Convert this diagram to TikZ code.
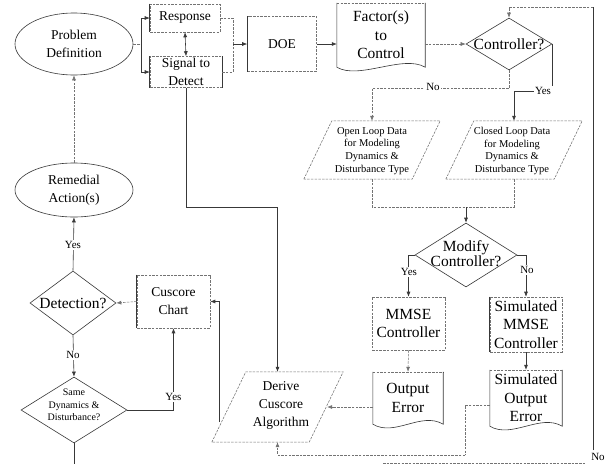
\documentclass[tikz,border=0pt]{standalone}
\usepackage{fontspec}
\setmainfont{Liberation Serif}
\usetikzlibrary{shapes.geometric,arrows.meta,calc}
\newcommand\drawpgram[2]{%
  \draw[fl] (#1.south west) -- ($(#1.north west)+(#2,0)$) -- (#1.north east) -- ($(#1.south east)+(-#2,0)$) -- cycle;}
\newcommand\drawdoc[1]{%
  \draw[fl] (#1.north west) -- (#1.north east);
  \draw[ln] (#1.north west) -- (#1.south west) .. controls +(22,13) and +(-22,-13) .. (#1.south east) -- (#1.north east);}
\begin{document}
\begin{tikzpicture}[x=1pt,y=-1pt,
  ln/.style={draw=black!78,line width=0.6pt},
  fl/.style={draw=black!55,line width=0.55pt,dash pattern=on 2.5pt off 1.2pt},
  arr/.style={-{Latex[length=5pt,width=4pt]}},
  arrb/.style={{Latex[length=5pt,width=4pt]}-{Latex[length=5pt,width=4pt]}},
  fA/.style={font=\fontsize{13.5}{18}\selectfont},
  fB/.style={font=\fontsize{15.5}{18.5}\selectfont},
  fS/.style={font=\fontsize{10.5}{12.7}\selectfont},
  lbl/.style={font=\fontsize{11}{13}\selectfont,fill=white,inner sep=1pt},
  rbox/.style={rectangle,fl,align=center,inner sep=0pt},
  tnode/.style={align=center,inner sep=0pt},
  ellnode/.style={ellipse,ln,align=center,inner sep=0pt},
  dmd/.style={diamond,ln,inner sep=0pt},
]
\useasboundingbox (0,0) rectangle (606,464);
\fill[white] (0,0) rectangle (606,464);

% ---- nodes ----
\node[ellnode,fA,minimum width=118,minimum height=62] (prob) at (74,44) {Problem\\Definition};
\node[ellnode,fA,minimum width=118,minimum height=54] (rem) at (74,190) {Remedial\\Action(s)};
\node[rbox,fA,minimum width=70,minimum height=28] (resp) at (185,18) {Response};
\node[rbox,fA,minimum width=72,minimum height=31] (sig) at (186,72) {Signal to\\Detect};
\node[rbox,fA,minimum width=69,minimum height=55] (doe) at (282,44) {DOE};
\node[tnode,fB,minimum width=88,minimum height=64] (fac) at (381,35) {Factor(s)\\to\\Control};

\node[dmd,minimum width=86,minimum height=52] (ctrl) at (509,44) {};
\node[tnode,fB] (ctrlT) at (509,44) {Controller?};

\node[tnode,minimum width=136,minimum height=58] (open) at (372,150) {};
\node[tnode,fS] (openT) at (372,151) {Open Loop Data\\for Modeling\\Dynamics \&\\Disturbance Type};
\node[tnode,minimum width=136,minimum height=58] (closed) at (514,150) {};
\node[tnode,fS] (closedT) at (512,151) {Closed Loop Data\\for Modeling\\Dynamics \&\\Disturbance Type};

\node[dmd,minimum width=102,minimum height=64] (mod) at (466,255) {};
\node[tnode,fB,font=\fontsize{15.5}{14}\selectfont] (modT) at (466,254) {Modify\\Controller?};

\node[rbox,fB,minimum width=73,minimum height=53] (mmse) at (408.5,323.5) {MMSE\\Controller};
\node[rbox,fB,minimum width=72,minimum height=55] (smc) at (526,324.5) {Simulated\\MMSE\\Controller};
\node[tnode,fB,minimum width=70,minimum height=52] (oerr) at (408,398) {Output\\Error};
\node[tnode,fB,minimum width=72,minimum height=56] (soerr) at (526,398) {Simulated\\Output\\Error};

\node[tnode,minimum width=131,minimum height=70] (der) at (277.5,407) {};
\node[tnode,fA] (derT) at (281,405) {Derive\\Cuscore\\Algorithm};

\node[rbox,fA,minimum width=73,minimum height=53] (cus) at (173.5,301.5) {Cuscore\\Chart};
\node[dmd,minimum width=86,minimum height=64] (det) at (73,303) {};
\node[tnode,fB] (detT) at (73,303) {Detection?};
\node[dmd,minimum width=106,minimum height=66] (same) at (74,410) {};
\node[tnode,font=\fontsize{10}{12.3}\selectfont] (sameT) at (74,405) {Same\\Dynamics \&\\Disturbance?};

% ---- shapes drawn directly ----
\drawpgram{open}{28}
\drawpgram{closed}{28}
\drawpgram{der}{34}
\drawdoc{fac}
\drawdoc{oerr}
\drawdoc{soerr}
\foreach \b in {resp,sig,doe,cus,smc}{\draw[ln] (\b.north west) -- (\b.south west);}
\draw[ln] (sig.north east) -- (sig.south east);

% ---- coordinates ----
\coordinate (bt) at (141,18);
\coordinate (bb) at (141,72);
\coordinate (m1) at (233,44);
\coordinate (mj) at (466,207);
\coordinate (rb) at (593,450);
\coordinate (rt) at (593,7);
\coordinate (bl1) at (383,463);
\coordinate (bl2) at (586,463);
\coordinate (sj) at (465,455);
\coordinate (sbot) at (74,464);

% ---- connectors ----
\draw[fl] (prob.east) -- (prob.east -| bt);
\draw[ln] (bt) -- (bb);
\draw[ln,arr] (bt) -- (resp.west);
\draw[ln,arr] (bb) -- (sig.west);
\draw[ln,arrb] (resp.south) -- (sig.north);
\draw[fl] (resp.east) -| (m1);
\draw[fl] (sig.east) -| (m1);
\draw[ln,arr] (m1) -- (doe.west);
\draw[ln,arr] (doe.east) -- (doe.east -| fac.west);
\draw[fl,arr] (fac.east |- ctrl.west) -- (ctrl.west);
\draw[fl,arr] (ctrl.south) -- ++(0,18) -| (open.north);
\node[lbl] (no1) at (433,87) {No};
\node[lbl] (yes1) at (543,91) {Yes};
\draw[ln] (ctrl.east) -- (ctrl.east |- yes1.north);
\draw[ln,arr] (yes1.west) -| (closed.north);
\draw[ln] (rb) -- (rt);
\draw[fl,arr] (rt) -| (ctrl.north);
\draw[fl] (bl1) -- (bl2);
\node[lbl,fill=none] (no5) at (598,457) {No};

\draw[fl] (open.south) |- (mj);
\draw[fl] (closed.south) |- (mj);
\draw[ln,arr] (mj) -- (mod.north);
\draw[ln,arr] (sig.south) |- (der.north |- mj) -- (der.north);

\draw[ln,arr] (mod.west) -| (mmse.north);
\draw[ln,arr] (mod.east) -| (smc.north);
\node[lbl] (yes2) at (409,272) {Yes};
\node[lbl] (no2) at (527,270) {No};
\draw[fl,arr] (mmse.south) -- (oerr.north);
\draw[ln,arr] (smc.south) -- (soerr.north);
\draw[fl,arr] ($(oerr.west)+(0,9)$) -- ($(der.east)+(-16,0)$);
\draw[fl] ($(soerr.west)+(0,7)$) -| (sj);
\draw[fl,arr] (sj) -| (der.south);

\draw[ln,arr] ($(der.south west)+(7,-20)$) |- (cus.east);
\draw[fl,arr] (cus.west) -- (det.east);
\draw[fl,arr] (rem.north) -- (prob.south);
\draw[ln,arr] (det.north) -- (rem.south);
\draw[ln,arr] (det.south) -- (same.north);
\draw[ln,arr] (same.east) -| (cus.south);
\draw[ln] (same.south) -- (sbot);
\node[lbl] (yes3) at (73,245) {Yes};
\node[lbl] (no3) at (73,355) {No};
\node[lbl] (yes4) at (173.5,397) {Yes};
\end{tikzpicture}
\end{document}
